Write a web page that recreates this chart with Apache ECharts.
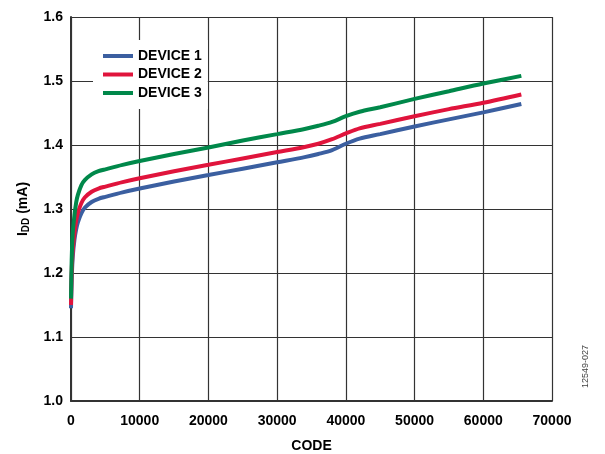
<!DOCTYPE html>
<html><head><meta charset="utf-8">
<script src="https://cdn.jsdelivr.net/npm/echarts@6/dist/echarts.min.js"></script>
<style>html,body{margin:0;padding:0;background:#fff}#c{width:605px;height:454px}</style>
</head><body><div id="c"></div>
<script>
const codes = [0, 100, 250, 500, 750, 1000, 1500, 2000, 3000, 4000, 5000, 7500, 10000, 15000, 20000, 25000, 30000, 34000, 36000, 38000, 40000, 42000, 45000, 50000, 55000, 60000, 65535];
const device1 = [1.145, 1.19, 1.225, 1.252, 1.268, 1.279, 1.293, 1.302, 1.311, 1.316, 1.319, 1.326, 1.332, 1.343, 1.353, 1.363, 1.373, 1.381, 1.386, 1.392, 1.402, 1.410, 1.417, 1.429, 1.440, 1.451, 1.464];
const device2 = [1.15, 1.20, 1.235, 1.262, 1.282, 1.294, 1.309, 1.318, 1.327, 1.332, 1.335, 1.342, 1.348, 1.359, 1.369, 1.379, 1.389, 1.397, 1.402, 1.409, 1.418, 1.426, 1.433, 1.445, 1.456, 1.466, 1.479];
const device3 = [1.16, 1.22, 1.262, 1.29, 1.31, 1.322, 1.337, 1.345, 1.354, 1.359, 1.362, 1.369, 1.375, 1.386, 1.396, 1.407, 1.417, 1.425, 1.430, 1.436, 1.445, 1.452, 1.459, 1.472, 1.484, 1.496, 1.508];
const seriesNames = ['DEVICE 1', 'DEVICE 2', 'DEVICE 3'];
const colors = ['#3b5fa0', '#e0143c', '#00884a'];

const chart = echarts.init(document.getElementById('c'), null, {renderer: 'canvas'});
const pair = arr => codes.map((c, i) => [c, arr[i]]);
const font = 'Arial, "Liberation Sans", sans-serif';
chart.setOption({
  animation: false,
  backgroundColor: '#fff',
  color: colors,
  grid: {left: 71, right: 53, top: 17, bottom: 53, containLabel: false, outerBoundsMode: 'none'},
  legend: {
    orient: 'vertical', left: 93, top: 40,
    backgroundColor: '#fff', padding: [8, 6, 8, 10],
    itemWidth: 30, itemHeight: 4, itemGap: 2.5, icon: 'rect',
    textStyle: {fontFamily: font, fontWeight: 'bold', fontSize: 14, color: '#000', lineHeight: 16},
    data: seriesNames
  },
  xAxis: {
    type: 'value', min: 0, max: 70000, interval: 10000,
    name: 'CODE', nameLocation: 'middle', nameGap: 38,
    nameTextStyle: {fontFamily: font, fontWeight: 'bold', fontSize: 14, color: '#000'},
    axisLine: {show: true, lineStyle: {color: '#333', width: 2}},
    axisTick: {show: false},
    axisLabel: {fontFamily: font, fontWeight: 'bold', fontSize: 14, color: '#000', margin: 13, formatter: v => String(v)},
    splitLine: {show: true, lineStyle: {color: '#333', width: 1.2}}
  },
  yAxis: {
    type: 'value', min: 1.0, max: 1.6, interval: 0.1,
    name: '{n|I}{s|DD}{n| (mA)}', nameLocation: 'middle', nameGap: 40,
    nameTextStyle: {rich: {
      n: {fontFamily: font, fontWeight: 'bold', fontSize: 14, color: '#000'},
      s: {fontFamily: font, fontWeight: 'bold', fontSize: 10, color: '#000', verticalAlign: 'bottom', padding: [6, 0, 0, 0]}
    }},
    axisLine: {show: true, lineStyle: {color: '#333', width: 2}},
    axisTick: {show: false},
    axisLabel: {fontFamily: font, fontWeight: 'bold', fontSize: 14, color: '#000', margin: 8, formatter: v => v.toFixed(1)},
    splitLine: {show: true, lineStyle: {color: '#333', width: 1.2}}
  },
  series: [device1, device2, device3].map((d, i) => ({
    name: seriesNames[i], type: 'line', data: pair(d), smooth: 0.3,
    showSymbol: false, lineStyle: {width: 4, color: colors[i]}, z: 3 + i
  })),
  graphic: [{
    type: 'text', left: 581, top: 345, rotation: Math.PI / 2,
    style: {text: '12549-027', font: '9px Arial, "Liberation Sans", sans-serif', fill: '#444'}
  }]
});
</script></body></html>
